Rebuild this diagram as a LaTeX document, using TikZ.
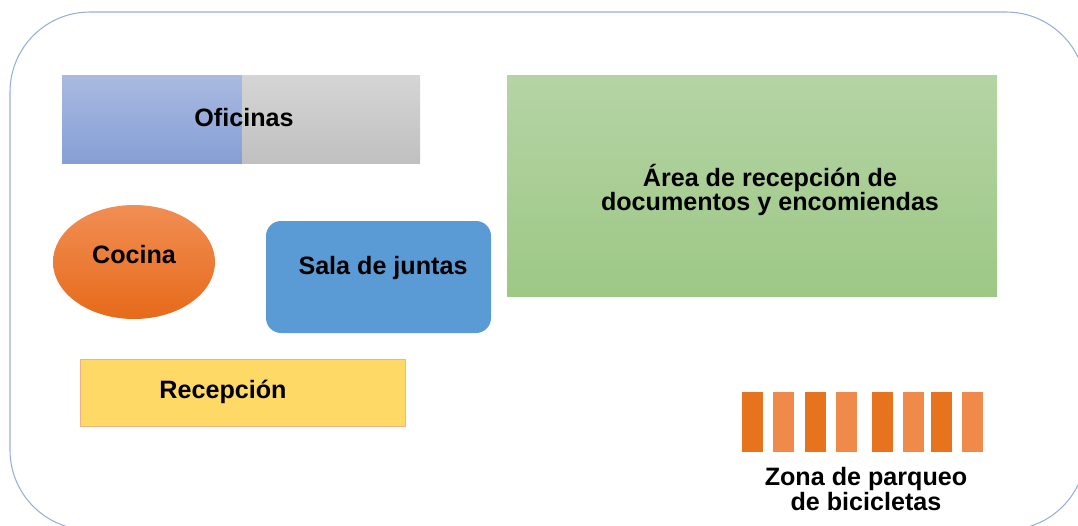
\documentclass[tikz,border=0pt]{standalone}
\usepackage{fontspec}
\setmainfont{Liberation Sans}
\definecolor{wallblue}{RGB}{150,175,222}
\definecolor{offblueT}{RGB}{170,186,225}
\definecolor{offblueB}{RGB}{133,159,213}
\definecolor{offgrayT}{RGB}{213,213,213}
\definecolor{offgrayB}{RGB}{192,192,192}
\definecolor{areaT}{RGB}{181,212,165}
\definecolor{areaB}{RGB}{157,200,133}
\definecolor{cocT}{RGB}{241,142,84}
\definecolor{cocM}{RGB}{243,126,42}
\definecolor{cocB}{RGB}{230,106,26}
\definecolor{salablue}{RGB}{91,155,213}
\definecolor{recyellow}{RGB}{255,217,102}
\definecolor{recedge}{RGB}{244,177,131}
\definecolor{bikeA}{RGB}{232,115,31}
\definecolor{bikeB}{RGB}{240,138,75}
\begin{document}
\begin{tikzpicture}[x=0.2mm,y=-0.2mm,font=\bfseries\fontsize{14.3}{14}\selectfont]
\clip (0,0) rectangle (1078,526);
% outer wall
\draw[wallblue,line width=0.6pt,rounded corners=16mm] (10,12) rectangle (1086,530);
% oficinas
\coordinate (A) at (62,75);
\coordinate (B) at (242,163);
\coordinate (C) at (420,75);
\shade[top color=offblueT,bottom color=offblueB] (A) rectangle (B);
\shade[top color=offgrayT,bottom color=offgrayB] (B) rectangle (C);
\node (oficinas) at (244,118) {Oficinas};
% area de recepcion
\shade[top color=areaT,bottom color=areaB] (507,75) rectangle (997,296);
\node[align=center] (area) at (770,190) {Área de recepción de\\documentos y encomiendas};
% cocina
\shade[top color=cocT,middle color=cocM,bottom color=cocB] (134,262) ellipse [x radius=81,y radius=57];
\node (cocina) at (134,255) {Cocina};
% sala de juntas
\fill[salablue,rounded corners=3mm] (266,221) rectangle (491,333);
\node (sala) at (383,268) {Sala de juntas};
% recepcion
\draw[recedge,fill=recyellow,line width=0.5pt] (80,359) rectangle (405,426);
\node (recepcion) at (223,392) {Recepción};
% parqueo de bicicletas
\foreach \x/\c in {752.5/bikeA,783.5/bikeB,815.5/bikeA,846.5/bikeB,882.5/bikeA,913.5/bikeB,941.5/bikeA,972.5/bikeB}
  \fill[\c] (\x-10.5,392) rectangle (\x+10.5,452);
\node[align=center,font=\bfseries\fontsize{14.3}{12.5}\selectfont] (parqueo) at (866,489) {Zona de parqueo\\de bicicletas};
\end{tikzpicture}
\end{document}
